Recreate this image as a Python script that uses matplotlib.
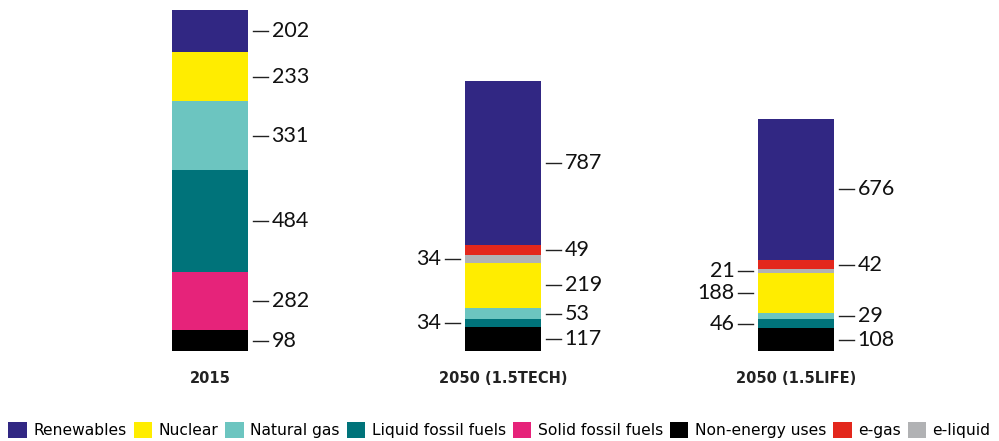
import matplotlib.pyplot as plt
from matplotlib.patches import Patch

# Energy demand by carrier, stacked bottom -> top
scenarios = ['2015', '2050 (1.5TECH)', '2050 (1.5LIFE)']
carriers = ['Non-energy uses', 'Solid fossil fuels', 'Liquid fossil fuels',
            'Natural gas', 'Nuclear', 'e-liquid', 'e-gas', 'Renewables']
colors = ['#000000', '#e6237a', '#00737a', '#6cc5c0', '#ffed00',
          '#b1b2b4', '#e3271c', '#312783']

non_energy = [98, 117, 108]
solid_fossil = [282, 0, 0]
liquid_fossil = [484, 34, 46]
natural_gas = [331, 53, 29]
nuclear = [233, 219, 188]
e_liquid = [0, 34, 21]
e_gas = [0, 49, 42]
renewables = [202, 787, 676]
values = [non_energy, solid_fossil, liquid_fossil, natural_gas,
          nuclear, e_liquid, e_gas, renewables]

# which side each value label sits on ('r' right, 'l' left)
label_side = [
    ['r', 'r', 'r'],
    ['r', 'r', 'r'],
    ['r', 'l', 'l'],
    ['r', 'r', 'r'],
    ['r', 'r', 'l'],
    ['r', 'l', 'l'],
    ['r', 'r', 'r'],
    ['r', 'r', 'r'],
]

legend_order = ['Renewables', 'Nuclear', 'Natural gas', 'Liquid fossil fuels',
                'Solid fossil fuels', 'Non-energy uses', 'e-gas', 'e-liquid']

W, H = 999, 441
fig = plt.figure(figsize=(W / 100, H / 100), dpi=100)
ax = fig.add_axes([63.5 / W, 90 / H, 879 / W, 341 / H])

x = range(len(scenarios))
bw = 0.26
bottom = [0, 0, 0]
num_font = dict(family=['Lato', 'DejaVu Sans'], fontsize=15.5, color='#111111')
for vals, c, sides in zip(values, colors, label_side):
    ax.bar(x, vals, bw, bottom=bottom, color=c, linewidth=0)
    for i, v in enumerate(vals):
        if v == 0:
            continue
        mid = bottom[i] + v / 2
        if sides[i] == 'r':
            x0 = i + bw / 2 + 0.017
            ax.plot([x0, x0 + 0.052], [mid, mid], color='#222222', lw=1)
            ax.text(x0 + 0.063, mid, str(v), ha='left', va='center', **num_font)
        else:
            x0 = i - bw / 2 - 0.017
            ax.plot([x0, x0 - 0.052], [mid, mid], color='#222222', lw=1)
            ax.text(x0 - 0.063, mid, str(v), ha='right', va='center', **num_font)
    bottom = [b + v for b, v in zip(bottom, vals)]

ax.set_xlim(-0.5, 2.5)
ax.set_ylim(0, 1630)
ax.axis('off')

for i, s in enumerate(scenarios):
    ax.text(i, -130, s, ha='center', va='center', fontsize=10.5,
            fontweight='bold', color='#222222', family=['DejaVu Sans'])

handles = [Patch(facecolor=colors[carriers.index(n)], label=n) for n in legend_order]
fig.legend(handles=handles, loc='center', bbox_to_anchor=(0.5, 1 - 430 / H),
           ncol=8, frameon=False, handlelength=1.2,
           handleheight=1.2, handletextpad=0.4, columnspacing=0.45,
           borderaxespad=0, prop={'family': 'DejaVu Sans', 'size': 11.2})

fig.savefig('out.png', dpi=100)
